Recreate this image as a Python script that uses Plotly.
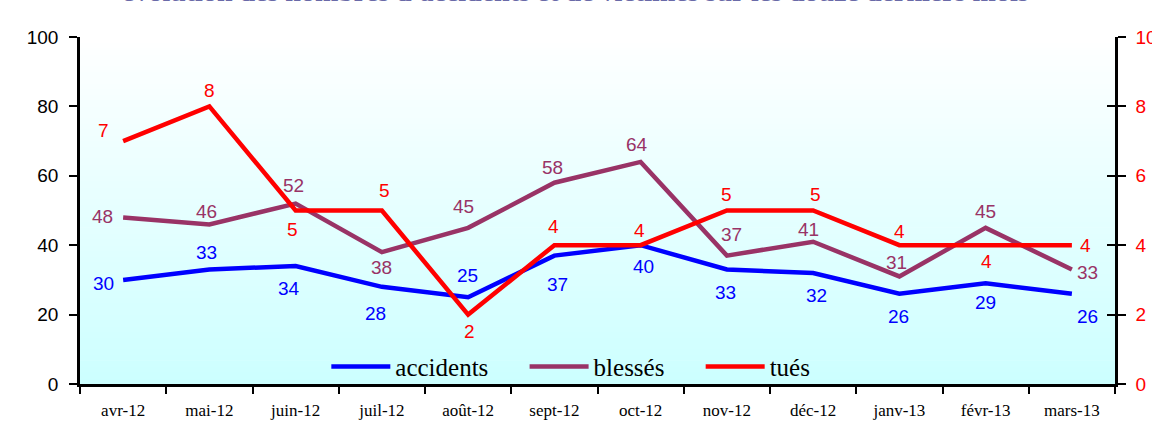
import plotly.graph_objects as go

# ---- data ----
months = ["avr-12", "mai-12", "juin-12", "juil-12", "août-12", "sept-12",
          "oct-12", "nov-12", "déc-12", "janv-13", "févr-13", "mars-13"]
accidents = [30, 33, 34, 28, 25, 37, 40, 33, 32, 26, 29, 26]
blesses = [48, 46, 52, 38, 45, 58, 64, 37, 41, 31, 45, 33]
tues = [7, 8, 5, 5, 2, 4, 4, 5, 5, 4, 4, 4]
series_names = ["accidents", "blessés", "tués"]
left_ticks = [0, 20, 40, 60, 80, 100]
right_ticks = [0, 2, 4, 6, 8, 10]
title_text = "évolution des nombres d'accidents et de victimes sur les douze derniers mois"

# ---- styles ----
C_ACC = "#0000FF"
C_BLE = "#993366"
C_TUE = "#FF0000"
LABEL_FONT = "Liberation Sans, Arial, sans-serif"
SERIF = "Liberation Serif, Times New Roman, serif"
PAD = "\u00a0" * 5  # extra spacing between legend entries

# label pixel offsets (dx, dy screen; dy positive = down)
off_acc = [(-20, 4), (-3, -17), (-7, 22), (-6, 27), (-1, -22), (3, 29),
           (3, 21), (-1, 23), (3, 23), (-1, 23), (0, 19), (16, 23)]
off_ble = [(-21, -1), (-3, -13), (-2, -18), (0, 15), (-5, -21), (-2, -15),
           (-4, -17), (5, -21), (-5, -12), (-3, -14), (0, -16), (16, 3)]
off_tue = [(-20, -11), (0, -16), (-3, 19), (3, -20), (1, 17), (-1, -19),
           (-1, -15), (0, -16), (2, -16), (0, -14), (1, 16), (14, 0)]

fig = go.Figure()

fig.add_trace(go.Scatter(x=months, y=accidents, name=series_names[0] + PAD, mode="lines",
                         line=dict(color=C_ACC, width=4.5), yaxis="y"))
fig.add_trace(go.Scatter(x=months, y=blesses, name=series_names[1] + PAD, mode="lines",
                         line=dict(color=C_BLE, width=4.5), yaxis="y"))
fig.add_trace(go.Scatter(x=months, y=tues, name=series_names[2], mode="lines",
                         line=dict(color=C_TUE, width=4.5), yaxis="y2"))
# helper trace so the inner tick marks of the right axis are drawn
fig.add_trace(go.Scatter(x=months, y=tues, mode="none", yaxis="y3",
                         showlegend=False, hoverinfo="skip"))

annotations = []
for series, offs, col, yref in [(accidents, off_acc, C_ACC, "y"),
                                (blesses, off_ble, C_BLE, "y"),
                                (tues, off_tue, C_TUE, "y2")]:
    for m, v, (dx, dy) in zip(months, series, offs):
        annotations.append(dict(x=m, y=v, xref="x", yref=yref, text=str(v),
                                showarrow=False, xshift=dx, yshift=-dy,
                                font=dict(family=LABEL_FONT, size=19, color=col)))

# title (mostly cut off by the top edge, as in the original)
annotations.append(dict(text="<b>" + title_text + "</b>", xref="paper", yref="paper",
                        x=0.479, y=1.0, xanchor="center", yanchor="bottom",
                        yshift=27.5, showarrow=False,
                        font=dict(family=SERIF, size=28, color="#6A6AA8")))

# background gradient (white at top -> light cyan at bottom)
shapes = []
N = 60
top = (255, 255, 255)
bot = (204, 255, 255)
for i in range(N):
    t = (i + 0.5) / N
    r = round(bot[0] + (top[0] - bot[0]) * t)
    g = round(bot[1] + (top[1] - bot[1]) * t)
    b = round(bot[2] + (top[2] - bot[2]) * t)
    shapes.append(dict(type="rect", xref="paper", yref="paper",
                       x0=0, x1=1, y0=i / N, y1=(i + 1) / N + 0.002,
                       fillcolor=f"rgb({r},{g},{b})", line=dict(width=0),
                       layer="below"))

fig.update_layout(
    width=1152, height=425,
    margin=dict(l=80, r=37, t=37, b=41),
    paper_bgcolor="white", plot_bgcolor="white",
    showlegend=True,
    legend=dict(orientation="h", x=0.238, xanchor="left", y=0.05, yanchor="middle",
                bgcolor="rgba(0,0,0,0)", font=dict(family=SERIF, size=25, color="black"),
                itemwidth=59, traceorder="normal"),
    xaxis=dict(type="category", categoryorder="array", categoryarray=months,
               range=[-0.5, len(months) - 0.5], tickson="boundaries",
               ticks="outside", ticklen=7, tickwidth=2, tickcolor="black",
               showline=True, linecolor="black", linewidth=2.5,
               showgrid=False, zeroline=False, automargin=False,
               tickfont=dict(family=SERIF, size=17, color="black"),
               ticklabelstandoff=9),
    yaxis=dict(range=[0, 100], tickvals=left_ticks, ticks="outside", ticklen=8,
               tickwidth=2, tickcolor="black", showline=True, linecolor="black",
               linewidth=2.5, showgrid=False, zeroline=False, automargin=False,
               tickfont=dict(family=LABEL_FONT, size=19, color="black"),
               ticklabelstandoff=7),
    yaxis2=dict(range=[0, 10], tickvals=right_ticks, overlaying="y", side="right",
                ticks="outside", ticklen=8, tickwidth=2, tickcolor="black",
                showline=True, linecolor="black", linewidth=2.5, showgrid=False,
                zeroline=False, automargin=False,
                tickfont=dict(family=LABEL_FONT, size=19, color=C_TUE),
                ticklabelstandoff=6),
    yaxis3=dict(range=[0, 10], tickvals=right_ticks, overlaying="y", side="right",
                ticks="inside", ticklen=8, tickwidth=2, tickcolor="black",
                showline=False, showgrid=False, zeroline=False, showticklabels=False,
                automargin=False),
    annotations=annotations,
    shapes=shapes,
)

fig.write_html("out.html", config={"displayModeBar": False},
               post_script="document.body.style.margin='0';")
